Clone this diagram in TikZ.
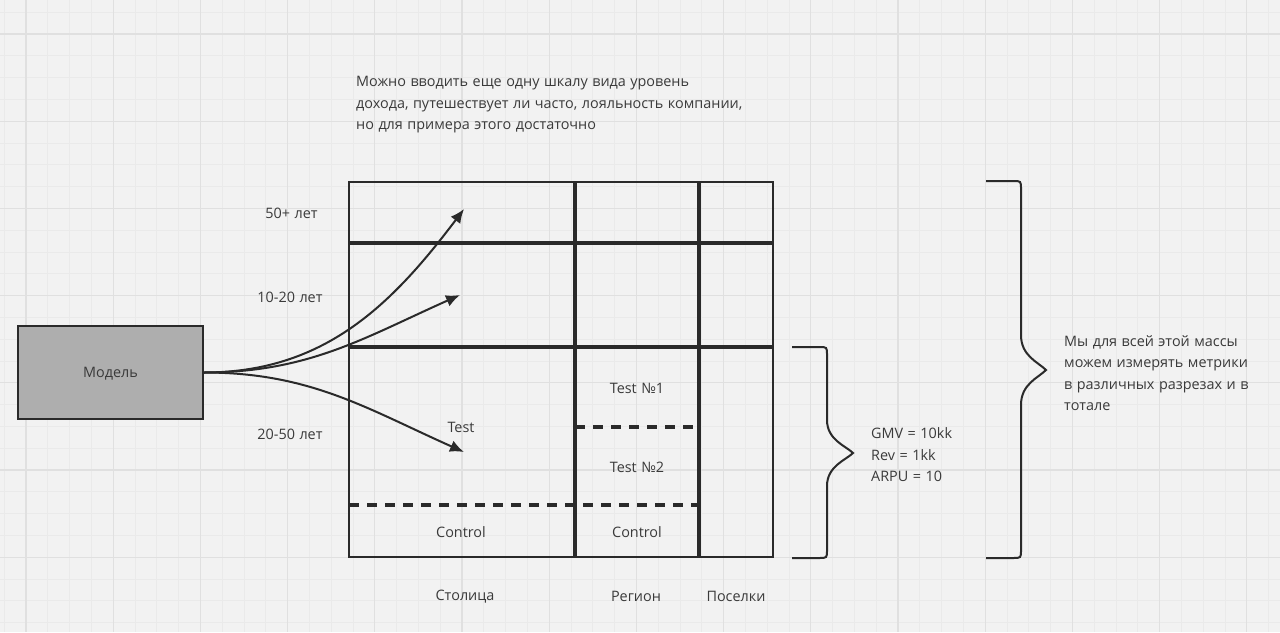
\documentclass[tikz,border=0pt]{standalone}
\usepackage{fontspec}
\setmainfont{Open Sans}[WordSpace=1.2]
\usepackage{tikz}
\usetikzlibrary{arrows.meta,positioning}
\definecolor{bg}{HTML}{F2F2F2}
\definecolor{gridmin}{HTML}{EAEAEA}
\definecolor{gridmaj}{HTML}{E0E0E0}
\definecolor{ink}{HTML}{2A2A2A}
\definecolor{txt}{HTML}{3A3A3A}
\definecolor{boxgray}{HTML}{AEAEAE}

\begin{document}
\begin{tikzpicture}[x=1pt,y=-1pt,
    lbl/.style={text=txt,font=\fontsize{14.4}{21.5}\selectfont,inner sep=0pt},
    modelbox/.style={lbl,draw=ink,line width=2pt,fill=boxgray,minimum width=185pt,minimum height=93pt,text depth=0pt},
    outer/.style={draw=ink,line width=2pt},
    inner/.style={draw=ink,line width=3.5pt},
    cut/.style={draw=ink,line width=3.5pt,dash pattern=on 10pt off 8pt},
    arr/.style={draw=ink,line width=2pt,-{Latex[length=14pt,width=12pt]}},
    brace/.style={draw=ink,line width=2pt}]
        \fill[bg] (0,0) rectangle (1280,632);
        \useasboundingbox (0,0) rectangle (1280,632);
        \foreach \i in {0,...,58} \draw[gridmin,line width=0.8pt] ({4.2+21.8*\i},0) -- ++(0,632);
        \foreach \i in {0,...,29} \draw[gridmin,line width=0.8pt] (0,{12.2+21.8*\i}) -- ++(1280,0);
        \foreach \i in {0,...,14} \draw[gridmaj,line width=1.3pt] ({26+87.2*\i},0) -- ++(0,632);
        \foreach \i in {0,...,7} \draw[gridmaj,line width=1.3pt] (0,{34+87.2*\i}) -- ++(1280,0);

        \node[lbl,anchor=west,align=left] (note) at (356,105)
            {Можно вводить еще одну шкалу вида уровень\\
             дохода, путешествует ли часто, лояльность компании,\\
             но для примера этого достаточно};

        \node[modelbox] (model) at (110.5,372.5) {Модель};

        \draw[outer] (349,182) rectangle (773,557);
        \draw[inner] (575,182) -- (575,557) (699,182) -- (699,557);
        \draw[inner] (349,243) -- (773,243) (349,347) -- (773,347);
        \draw[cut] (349,505) -- (699,505) (575,427) -- (699,427);

        \node[lbl] (age_1) at (291.5,213) {50+ лет};
        \node[lbl] (age_2) at (290,297) {10-20 лет};
        \node[lbl] (age_3) at (290,434) {20-50 лет};
        \node[lbl] (test_0) at (461,427) {Test};
        \node[lbl] (test_1) at (637,388) {Test №1};
        \node[lbl] (test_2) at (637,467) {Test №2};
        \node[lbl] (ctrl_1) at (461,532) {Control};
        \node[lbl] (ctrl_2) at (637,532) {Control};
        \node[lbl] (col_1) at (465,597) {Столица};
        \node[lbl] (col_2) at (636,596) {Регион};
        \node[lbl] (col_3) at (736,596) {Поселки};

        \coordinate (tip_1) at (464,209);
        \coordinate (tip_2) at (460,295);
        \coordinate (tip_3) at (464,452);
        \draw[arr] (model.east) to[out=0,in=233] (tip_1);
        \draw[arr] (model.east) to[out=0,in=204] (tip_2);
        \draw[arr] (model.east) to[out=0,in=156] (tip_3);

        \draw[brace] (792,347) -- (819,347) .. controls (827,347) .. (827,355) -- (827,420)
            .. controls (827,440) and (846,446) .. (853,453)
            .. controls (846,460) and (827,466) .. (827,486) -- (827,550)
            .. controls (827,558) .. (819,558) -- (792,558);
        \node[lbl,anchor=west,align=left] (metrics) at (871,455)
            {GMV = 10kk\\ Rev = 1kk\\ ARPU = 10};

        \draw[brace] (986,181) -- (1013,181) .. controls (1021,181) .. (1021,189) -- (1021,335)
            .. controls (1021,356) and (1038,362) .. (1046,370)
            .. controls (1038,378) and (1021,384) .. (1021,405) -- (1021,550)
            .. controls (1021,558) .. (1013,558) -- (986,558);
        \node[lbl,anchor=west,align=left] (total) at (1064,373)
            {Мы для всей этой массы\\ можем измерять метрики\\ в различных разрезах и в\\ тотале};
\end{tikzpicture}
\end{document}
